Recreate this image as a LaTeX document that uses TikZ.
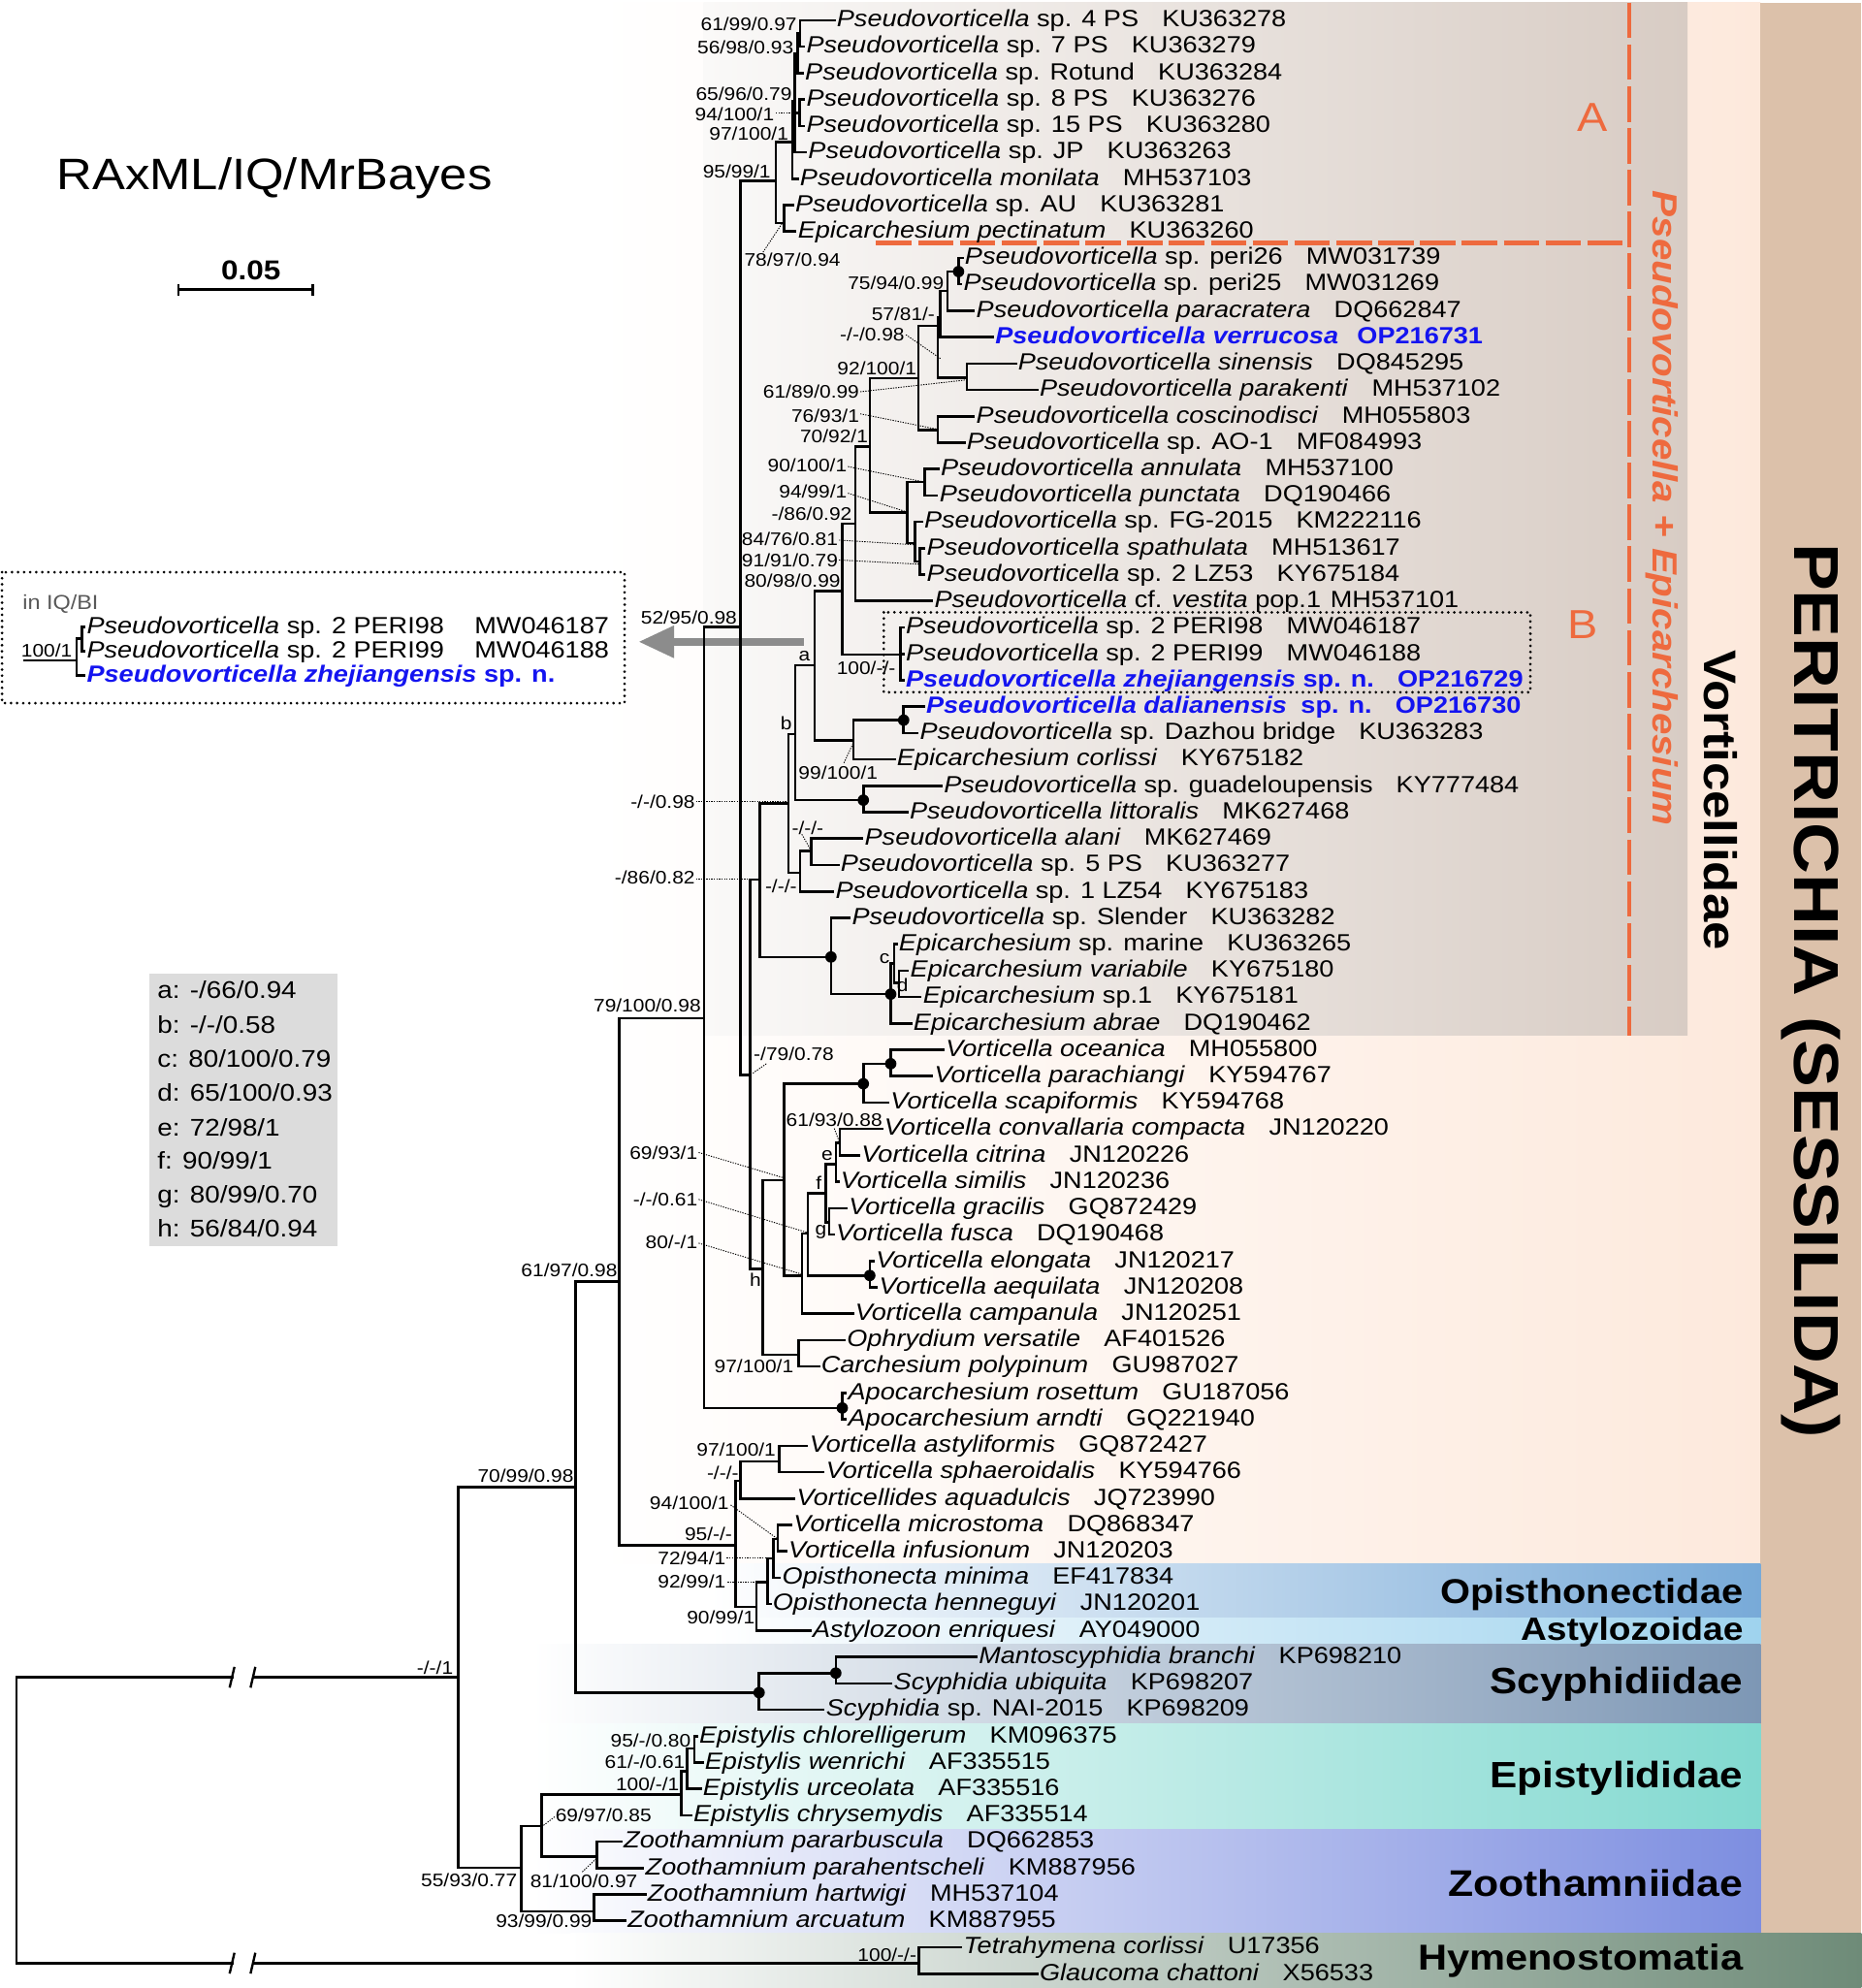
\documentclass[tikz,border=0pt]{standalone}
\usepackage{fontspec}
\setmainfont{Liberation Sans}[FakeStretch=1.12]
\usetikzlibrary{arrows.meta}
\definecolor{peach}{HTML}{FDE9DC}
\definecolor{boxL}{HTML}{FAF9F8}
\definecolor{boxR}{HTML}{D8CCC4}
\definecolor{peri}{HTML}{DCC1AA}
\definecolor{opis}{HTML}{78AAD8}
\definecolor{asty}{HTML}{9FD3EE}
\definecolor{scyp}{HTML}{7D97B5}
\definecolor{epis}{HTML}{82D9D0}
\definecolor{zoot}{HTML}{7D8EE0}
\definecolor{hyme}{HTML}{6E8B78}
\definecolor{orng}{HTML}{EE6A3E}
\definecolor{tblue}{HTML}{1414F0}
\definecolor{arrgray}{HTML}{8C8C8C}
\definecolor{legbg}{HTML}{DCDCDC}
\newcommand\pv{\textit{Pseudovorticella}}
\newcommand\tleaf[4]{\coordinate (#1) at (#2,#3);\node[tx] (#1t) at ({#2+1.8},{#3+5.2}) {#4};}
\newcommand\tkids[2]{\foreach \kd in {#2}{\draw[br] (#1) |- (\kd);}}
\newcommand\slab[4]{\node[sl] (#1) at (#2,{#3+5.1}) {#4};}
\newcommand\tlead[4]{\draw[ldr] (#1,#2) -- (#3,#4);}
\newcommand\bluetx[1]{{\color{tblue}\bfseries #1}}
\begin{document}
\begin{tikzpicture}[x=1pt,y=-1pt,
  br/.style={line width=2pt, line cap=rect, line join=miter},
  tx/.style={anchor=base west, inner sep=0pt, font=\fontsize{18.5}{20}\selectfont},
  sl/.style={anchor=base east, inner sep=0pt, font=\fontsize{14.3}{15}\selectfont},
  ldr/.style={line width=0.7pt, dash pattern=on 1pt off 1pt},
  dotn/.style={circle, fill=black, inner sep=0pt, minimum size=9pt},
  fam/.style={anchor=base east, inner sep=0pt},
  dotbox/.style={line width=2.3pt, dash pattern=on 0pt off 4.8pt, line cap=round},
  odash/.style={draw=orng, line width=3.6pt, dash pattern=on 28pt off 5pt},
  leg/.style={anchor=base west, inner sep=0pt, font=\fontsize{19}{21}\selectfont}]
\useasboundingbox (0,0) rectangle (1468,1568);
\fill[white] (0,0) rectangle (1468,1568);
% ---------- backgrounds
\shade[left color=white, right color=peach] (470,2) rectangle (1388.6,1233.7);
\shade[left color=boxL, right color=boxR] (555,2) rectangle (1331,816.5);
\fill[peri] (1388.6,2) rectangle (1468,1524.7);
\shade[left color=white, right color=opis] (560,1233.7) rectangle (1388.6,1276.2);
\shade[left color=white, right color=asty] (560,1276.2) rectangle (1388.6,1296.6);
\shade[left color=white, right color=scyp] (420,1296.6) rectangle (1388.6,1359.5);
\shade[left color=white, right color=epis] (420,1359.5) rectangle (1388.6,1443);
\shade[left color=white, right color=zoot] (420,1443) rectangle (1388.6,1524.7);
\shade[left color=white, right color=hyme] (450,1524.7) rectangle (1468,1568);
% ---------- orange clade marks
\coordinate (oTop) at (1285,2);
\coordinate (oBot) at (1285,816.5);
\coordinate (oCor) at (1285,191.8);
\coordinate (oLeft) at (691,191.8);
\draw[odash] (oTop) -- (oBot);
\draw[odash] (oLeft) -- (oCor);
\node[text=orng, font=\fontsize{32}{34}\selectfont] (labA) at (1256,93) {A};
\node[text=orng, font=\fontsize{32}{34}\selectfont] (labB) at (1248,493) {B};
\node[text=orng, rotate=-90, font=\bfseries\itshape\fontsize{27.5}{30}\selectfont] (pe) at (1311,401) {Pseudovorticella + Epicarchesium};
\node[rotate=-90, font=\bfseries\fontsize{36}{38}\selectfont] (vort) at (1357,631) {Vorticellidae};
\node[rotate=-90, font=\bfseries\fontsize{50}{52}\selectfont] (perit) at (1428,781.5) {PERITRICHIA (SESSILIDA)};
\node[fam, font=\bfseries\fontsize{27.2}{29}\selectfont] (fOp) at (1375,1264.6) {Opisthonectidae};
\node[fam, font=\bfseries\fontsize{25.4}{27}\selectfont] (fAs) at (1375,1294) {Astylozoidae};
\node[fam, font=\bfseries\fontsize{28.9}{30}\selectfont] (fSc) at (1375,1336.2) {Scyphidiidae};
\node[fam, font=\bfseries\fontsize{28.9}{30}\selectfont] (fEp) at (1375,1410.1) {Epistylididae};
\node[fam, font=\bfseries\fontsize{29.2}{30}\selectfont] (fZo) at (1375,1495.6) {Zoothamniidae};
\node[fam, font=\bfseries\fontsize{28.4}{30}\selectfont] (fHy) at (1375,1554.2) {Hymenostomatia};
% ---------- title, scale, legend
\node[anchor=base west, inner sep=0pt, font=\fontsize{34.7}{37}\selectfont] (title) at (44.6,149.2) {RAxML/IQ/MrBayes};
\node[anchor=base, inner sep=0pt, font=\bfseries\fontsize{21.5}{23}\selectfont] (sc) at (198,220.6) {0.05};
\coordinate (sbL) at (140.8,228.2); \coordinate (sbR) at (246.8,228.2);
\draw[line width=2pt] (sbL) -- (sbR);
\draw[line width=2pt] (140.8,223.9) -- (140.8,233.3);
\draw[line width=2pt] (246.8,223.9) -- (246.8,233.3);
\fill[legbg] (118,768) rectangle (266,983);
\node[leg] (la) at (124,787.8) {a: -/66/0.94};
\node[leg] (lb) at (124,814.8) {b: -/-/0.58};
\node[leg] (lc) at (124,841.8) {c: 80/100/0.79};
\node[leg] (ld) at (124,868.8) {d: 65/100/0.93};
\node[leg] (le) at (124,895.8) {e: 72/98/1};
\node[leg] (lf) at (124,921.8) {f: 90/99/1};
\node[leg] (lg) at (124,948.8) {g: 80/99/0.70};
\node[leg] (lh) at (124,975.8) {h: 56/84/0.94};
% ---------- inset
\draw[dotbox] (1.6,451.3) rectangle (492.6,554.6);
\node[anchor=base west, inner sep=0pt, text=black!65, font=\fontsize{16}{18}\selectfont] (inq) at (17.7,480.4) {in IQ/BI};
\coordinate (Iroot) at (19.3,521);
\coordinate (I1) at (60.5,521);
\coordinate (I2) at (64.4,503.6);
\tleaf{I98}{66.5}{494.7}{\pv{} sp. 2 PERI98\hspace{1.3em}MW046187}
\tleaf{I99}{66.5}{513.8}{\pv{} sp. 2 PERI99\hspace{1.3em}MW046188}
\tleaf{Iz}{66.5}{532.6}{\bluetx{\textit{Pseudovorticella zhejiangensis} sp. n.}}
\draw[br] (Iroot) -- (I1);
\tkids{I1}{I2,Iz}
\tkids{I2}{I98,I99}
\node[sl] (i100) at (57,518.3) {100/1};
% ---------- grey arrow and dotted box B
\coordinate (arS) at (633.7,506.2); \coordinate (arE) at (503.6,506.2);
\draw[arrgray, line width=6pt, -{Triangle[length=28pt,width=24pt]}] (arS) -- (arE);
\draw[dotbox] (697,483) rectangle (1207,546);
% ---------- root
\coordinate (R) at (13.1,1322.9);
\coordinate (Rb) at (13.1,1548.4);
\coordinate (bk1a) at (183,1322.9); \coordinate (bk1b) at (199.5,1322.9);
\coordinate (bk2a) at (183,1548.4); \coordinate (bk2b) at (199.5,1548.4);
\coordinate (P0) at (361.2,1322.9);
\coordinate (Nhym) at (724.7,1548.4);
\draw[br] (bk1a) -- (R) -- (Rb) -- (bk2a);
\draw[br] (bk1b) -- (P0);
\draw[br] (bk2b) -- (Nhym);
\draw[line width=1.8pt] (181.1,1331.1) -- (184.9,1314.7);
\draw[line width=1.8pt] (197.6,1331.1) -- (201.4,1314.7);
\draw[line width=1.8pt] (181.1,1556.6) -- (184.9,1540.2);
\draw[line width=1.8pt] (197.6,1556.6) -- (201.4,1540.2);
% ---------- internal nodes
\coordinate (N7099) at (453.8,1173);
\coordinate (N6197) at (488.3,1011);
\coordinate (N79100) at (555.4,803);
\coordinate (N5295) at (584,494.7);
\coordinate (N9599) at (612,142.8);
\coordinate (N7897) at (618.4,176);
\coordinate (N97a) at (624.8,112.2);
\coordinate (N6596) at (626.8,80);
\coordinate (N5698) at (629,42);
\coordinate (N6199) at (631.1,26);
\coordinate (N94a) at (630.5,89);
\coordinate (N79) at (591.6,847.9);
\coordinate (N8682) at (599.2,693.6);
\coordinate (Nc1) at (621.7,633.7);
\coordinate (Nb) at (627.3,578.9);
\coordinate (Na) at (642.6,524.8);
\coordinate (N8098) at (664.3,466);
\coordinate (N8692) at (674.5,413);
\coordinate (N7092) at (686,352);
\coordinate (N92100) at (724.2,298.3);
\coordinate (Ndd) at (739.5,257);
\coordinate (N5781) at (741.5,250);
\coordinate (N7594) at (747.2,229.5);
\coordinate (Nd10) at (756,214.2);
\coordinate (N6189) at (762.5,298);
\coordinate (N7693) at (739.5,339);
\coordinate (N9499) at (715.3,404.2);
\coordinate (N90100) at (729.3,380);
\coordinate (N8476) at (721.7,428.4);
\coordinate (N9191) at (725.5,442.8);
\coordinate (Nperi) at (710.2,516.4);
\coordinate (N99100) at (673.2,584);
\coordinate (Nd27) at (712.7,568);
\coordinate (Nd30) at (680.9,631.1);
\coordinate (Nm1) at (631.1,688.5);
\coordinate (Nm2) at (640,671);
\coordinate (Nd35) at (655.4,754.8);
\coordinate (Nd36) at (702.5,784.1);
\coordinate (Nc) at (705.1,760);
\coordinate (Nd) at (709,775);
\coordinate (Nh) at (601.8,1001);
\coordinate (N97c) at (629.9,1068.5);
\coordinate (N6993) at (618.4,930.8);
\coordinate (Nd42) at (680.9,854.8);
\coordinate (Nd40) at (702.5,839);
\coordinate (N80) at (632.4,1006);
\coordinate (N061) at (637,973);
\coordinate (Nd48) at (686,1006);
\coordinate (Nf) at (651.5,941);
\coordinate (Ne) at (659.2,918);
\coordinate (N6193) at (662.5,901.4);
\coordinate (Ng) at (654,964);
\coordinate (Napo) at (664.3,1110.5);
\coordinate (N95) at (580.1,1218.9);
\coordinate (Nm3) at (584,1168);
\coordinate (N97b) at (614.6,1152.6);
\coordinate (N9099) at (596.7,1267.4);
\coordinate (N9299) at (605.6,1248);
\coordinate (N7294) at (610.2,1229);
\coordinate (N94b) at (613.3,1213.8);
\coordinate (Nscy) at (598.7,1335);
\coordinate (Nscy2) at (659.2,1319.6);
\coordinate (N5593) at (410.9,1473);
\coordinate (N6997) at (427.1,1440.2);
\coordinate (N100) at (537.3,1415.2);
\coordinate (N061b) at (542,1397);
\coordinate (N95080) at (547.5,1379);
\coordinate (N81100) at (470.8,1464.2);
\coordinate (N9399) at (468.7,1507.6);
% ---------- leaves
\tleaf{L1}{658}{16}{\pv{} sp. 4 PS\quad KU363278}
\tleaf{L2}{634}{36.8}{\pv{} sp. 7 PS\quad KU363279}
\tleaf{L3}{633}{57.6}{\pv{} sp. Rotund\quad KU363284}
\tleaf{L4}{634}{78.5}{\pv{} sp. 8 PS\quad KU363276}
\tleaf{L5}{634}{99.3}{\pv{} sp. 15 PS\quad KU363280}
\tleaf{L6}{635.5}{120.1}{\pv{} sp. JP\quad KU363263}
\tleaf{L7}{629}{140.9}{\textit{Pseudovorticella monilata}\quad MH537103}
\tleaf{L8}{625.3}{161.7}{\pv{} sp. AU\quad KU363281}
\tleaf{L9}{627.3}{182.6}{\textit{Epicarchesium pectinatum}\quad KU363260}
\tleaf{L10}{759}{203.4}{\pv{} sp. peri26\quad MW031739}
\tleaf{L11}{758}{224.2}{\pv{} sp. peri25\quad MW031269}
\tleaf{L12}{768}{245}{\textit{Pseudovorticella paracratera}\quad DQ662847}
\tleaf{L13}{783}{265.8}{\bluetx{\textit{Pseudovorticella verrucosa}\hspace{0.8em}OP216731}}
\tleaf{L14}{801}{286.7}{\textit{Pseudovorticella sinensis}\quad DQ845295}
\tleaf{L15}{818}{307.5}{\textit{Pseudovorticella parakenti}\quad MH537102}
\tleaf{L16}{768}{328.3}{\textit{Pseudovorticella coscinodisci}\quad MH055803}
\tleaf{L17}{760.5}{349.1}{\pv{} sp. AO-1\quad MF084993}
\tleaf{L18}{740}{369.9}{\textit{Pseudovorticella annulata}\quad MH537100}
\tleaf{L19}{739}{390.8}{\textit{Pseudovorticella punctata}\quad DQ190466}
\tleaf{L20}{727}{411.6}{\pv{} sp. FG-2015\quad KM222116}
\tleaf{L21}{729}{432.4}{\textit{Pseudovorticella spathulata}\quad MH513617}
\tleaf{L22}{729}{453.2}{\pv{} sp. 2 LZ53\quad KY675184}
\tleaf{L23}{735}{474}{\pv{} cf. \textit{vestita} pop.1\hspace{0.4em}MH537101}
\tleaf{L24}{712.5}{494.9}{\pv{} sp. 2 PERI98\quad MW046187}
\tleaf{L25}{712.5}{515.7}{\pv{} sp. 2 PERI99\quad MW046188}
\tleaf{L26}{712.5}{536.5}{\bluetx{\textit{Pseudovorticella zhejiangensis} sp. n.\quad OP216729}}
\tleaf{L27}{728.5}{557.3}{\bluetx{\textit{Pseudovorticella dalianensis}\hspace{0.6em}sp. n.\quad OP216730}}
\tleaf{L28}{723.5}{578.1}{\pv{} sp. Dazhou bridge\quad KU363283}
\tleaf{L29}{705.5}{599}{\textit{Epicarchesium corlissi}\quad KY675182}
\tleaf{L30}{742.5}{619.8}{\pv{} sp. guadeloupensis\quad KY777484}
\tleaf{L31}{715.5}{640.6}{\textit{Pseudovorticella littoralis}\quad MK627468}
\tleaf{L32}{680}{661.4}{\textit{Pseudovorticella alani}\quad MK627469}
\tleaf{L33}{661}{682.2}{\pv{} sp. 5 PS\quad KU363277}
\tleaf{L34}{657}{703.1}{\pv{} sp. 1 LZ54\quad KY675183}
\tleaf{L35}{670}{723.9}{\pv{} sp. Slender\quad KU363282}
\tleaf{L36}{707}{744.7}{\textit{Epicarchesium} sp. marine\quad KU363265}
\tleaf{L37}{716}{765.5}{\textit{Epicarchesium variabile}\quad KY675180}
\tleaf{L38}{726}{786.3}{\textit{Epicarchesium} sp.1\quad KY675181}
\tleaf{L39}{718.5}{807.2}{\textit{Epicarchesium abrae}\quad DQ190462}
\tleaf{L40}{744}{828}{\textit{Vorticella oceanica}\quad MH055800}
\tleaf{L41}{735}{848.8}{\textit{Vorticella parachiangi}\quad KY594767}
\tleaf{L42}{700.5}{869.6}{\textit{Vorticella scapiformis}\quad KY594768}
\tleaf{L43}{695.5}{890.4}{\textit{Vorticella convallaria compacta}\quad JN120220}
\tleaf{L44}{677.5}{911.3}{\textit{Vorticella citrina}\quad JN120226}
\tleaf{L45}{661}{932.1}{\textit{Vorticella similis}\quad JN120236}
\tleaf{L46}{667.5}{952.9}{\textit{Vorticella gracilis}\quad GQ872429}
\tleaf{L47}{657.5}{973.7}{\textit{Vorticella fusca}\quad DQ190468}
\tleaf{L48}{689}{994.5}{\textit{Vorticella elongata}\quad JN120217}
\tleaf{L49}{691.5}{1015.4}{\textit{Vorticella aequilata}\quad JN120208}
\tleaf{L50}{672.5}{1036.2}{\textit{Vorticella campanula}\quad JN120251}
\tleaf{L51}{666}{1057}{\textit{Ophrydium versatile}\quad AF401526}
\tleaf{L52}{645.7}{1077.8}{\textit{Carchesium polypinum}\quad GU987027}
\tleaf{L53}{667}{1098.6}{\textit{Apocarchesium rosettum}\quad GU187056}
\tleaf{L54}{667}{1119.5}{\textit{Apocarchesium arndti}\quad GQ221940}
\tleaf{L55}{636.5}{1140.3}{\textit{Vorticella astyliformis}\quad GQ872427}
\tleaf{L56}{649.5}{1161.1}{\textit{Vorticella sphaeroidalis}\quad KY594766}
\tleaf{L57}{626.5}{1181.9}{\textit{Vorticellides aquadulcis}\quad JQ723990}
\tleaf{L58}{624}{1202.7}{\textit{Vorticella microstoma}\quad DQ868347}
\tleaf{L59}{620}{1223.6}{\textit{Vorticella infusionum}\quad JN120203}
\tleaf{L60}{615}{1244.4}{\textit{Opisthonecta minima}\quad EF417834}
\tleaf{L61}{607.5}{1265.2}{\textit{Opisthonecta henneguyi}\quad JN120201}
\tleaf{L62}{639}{1286}{\textit{Astylozoon enriquesi}\quad AY049000}
\tleaf{L63}{770}{1306.8}{\textit{Mantoscyphidia branchi}\quad KP698210}
\tleaf{L64}{703}{1327.7}{\textit{Scyphidia ubiquita}\quad KP698207}
\tleaf{L65}{649.5}{1348.5}{\textit{Scyphidia} sp. NAI-2015\quad KP698209}
\tleaf{L66}{549.5}{1369.3}{\textit{Epistylis chlorelligerum}\quad KM096375}
\tleaf{L67}{554}{1390.1}{\textit{Epistylis wenrichi}\quad AF335515}
\tleaf{L68}{552.5}{1410.9}{\textit{Epistylis urceolata}\quad AF335516}
\tleaf{L69}{545}{1431.8}{\textit{Epistylis chrysemydis}\quad AF335514}
\tleaf{L70}{490}{1452.6}{\textit{Zoothamnium pararbuscula}\quad DQ662853}
\tleaf{L71}{507.2}{1473.4}{\textit{Zoothamnium parahentscheli}\quad KM887956}
\tleaf{L72}{508.8}{1494.2}{\textit{Zoothamnium hartwigi}\quad MH537104}
\tleaf{L73}{493.2}{1515}{\textit{Zoothamnium arcuatum}\quad KM887955}
\tleaf{L74}{758}{1535.9}{\textit{Tetrahymena corlissi}\quad U17356}
\tleaf{L75}{818}{1556.7}{\textit{Glaucoma chattoni}\quad X56533}
% ---------- branches
\tkids{P0}{N7099,N5593}
\tkids{N7099}{N6197,Nscy}
\tkids{N6197}{N79100,N95}
\tkids{N79100}{N5295,Napo}
\tkids{N5295}{N9599,N79}
\tkids{N9599}{N97a,N7897}
\tkids{N97a}{N6596,L7}
\tkids{N6596}{N5698,N94a,L6}
\tkids{N5698}{N6199,L3}
\tkids{N6199}{L1,L2}
\tkids{N94a}{L4,L5}
\tkids{N7897}{L8,L9}
\tkids{N79}{N8682,Nh}
\tkids{N8682}{Nc1,Nd35}
\tkids{Nc1}{Nb,Nm1}
\tkids{Nb}{Na,Nd30}
\tkids{Na}{N8098,N99100}
\tkids{N8098}{N8692,Nperi}
\tkids{N8692}{N7092,L23}
\tkids{N7092}{N92100,N9499}
\tkids{N92100}{Ndd,N7693}
\tkids{Ndd}{N5781,N6189}
\tkids{N5781}{N7594,L13}
\tkids{N7594}{Nd10,L12}
\tkids{Nd10}{L10,L11}
\tkids{N6189}{L14,L15}
\tkids{N7693}{L16,L17}
\tkids{N9499}{N90100,N8476}
\tkids{N90100}{L18,L19}
\tkids{N8476}{L20,N9191}
\tkids{N9191}{L21,L22}
\tkids{Nperi}{L24,L25,L26}
\tkids{N99100}{Nd27,L29}
\tkids{Nd27}{L27,L28}
\tkids{Nd30}{L30,L31}
\tkids{Nm1}{Nm2,L34}
\tkids{Nm2}{L32,L33}
\tkids{Nd35}{L35,Nd36}
\tkids{Nd36}{Nc,L39}
\tkids{Nc}{L36,Nd}
\tkids{Nd}{L37,L38}
\tkids{Nh}{N6993,N97c}
\tkids{N97c}{L51,L52}
\tkids{N6993}{Nd42,N80}
\tkids{Nd42}{Nd40,L42}
\tkids{Nd40}{L40,L41}
\tkids{N80}{N061,L50}
\tkids{N061}{Nf,Nd48}
\tkids{Nd48}{L48,L49}
\tkids{Nf}{Ne,Ng}
\tkids{Ne}{N6193,L45}
\tkids{N6193}{L43,L44}
\tkids{Ng}{L46,L47}
\tkids{Napo}{L53,L54}
\tkids{N95}{Nm3,N9099}
\tkids{Nm3}{N97b,L57}
\tkids{N97b}{L55,L56}
\tkids{N9099}{N9299,L62}
\tkids{N9299}{N7294,L61}
\tkids{N7294}{N94b,L60}
\tkids{N94b}{L58,L59}
\tkids{Nscy}{Nscy2,L65}
\tkids{Nscy2}{L63,L64}
\tkids{N5593}{N6997,N9399}
\tkids{N6997}{N100,N81100}
\tkids{N100}{N061b,L69}
\tkids{N061b}{N95080,L68}
\tkids{N95080}{L66,L67}
\tkids{N81100}{L70,L71}
\tkids{N9399}{L72,L73}
\tkids{Nhym}{L74,L75}
% ---------- dots
\foreach \dn in {Nd10,Nd27,Nd30,Nd35,Nd36,Nd42,Nd40,Nd48,Napo,Nscy,Nscy2}{\node[dotn] (k\dn) at (\dn) {};}
% ---------- support labels
\slab{s1}{628.6}{19.1}{61/99/0.97}
\slab{s2}{626}{37.7}{56/98/0.93}
\slab{s3}{624.7}{74}{65/96/0.79}
\slab{s4}{610.7}{90.5}{94/100/1}
\slab{s5}{622}{105.8}{97/100/1}
\slab{s6}{608}{135}{95/99/1}
\slab{s7}{663}{205}{78/97/0.94}
\slab{s8}{744.6}{223}{75/94/0.99}
\slab{s9}{737.5}{247.9}{57/81/-}
\slab{s10}{713.5}{264}{-/-/0.98}
\slab{s11}{723}{290.7}{92/100/1}
\slab{s12}{677.8}{309}{61/89/0.99}
\slab{s13}{677.8}{327.7}{76/93/1}
\slab{s14}{684.7}{344.3}{70/92/1}
\slab{s15}{668.1}{367.2}{90/100/1}
\slab{s16}{668.1}{387.6}{94/99/1}
\slab{s17}{672}{405.5}{-/86/0.92}
\slab{s18}{661}{425.3}{84/76/0.81}
\slab{s19}{661}{441.7}{91/91/0.79}
\slab{s20}{663}{457.7}{80/98/0.99}
\slab{s21}{581.4}{487}{52/95/0.98}
\slab{s22}{706.4}{526.6}{100/-/-}
\slab{s23}{692.4}{609.5}{99/100/1}
\slab{s24}{548.3}{632.4}{-/-/0.98}
\slab{s25}{649.7}{652.8}{-/-/-}
\slab{s26}{548.3}{692}{-/86/0.82}
\slab{s27}{628.6}{698.7}{-/-/-}
\slab{s28}{553}{793}{79/100/0.98}
\slab{s29}{657.9}{831.3}{-/79/0.78}
\slab{s30}{696}{883.6}{61/93/0.88}
\slab{s31}{550.3}{909}{69/93/1}
\slab{s32}{550.3}{946}{-/-/0.61}
\slab{s33}{550.3}{980}{80/-/1}
\slab{s34}{487}{1002}{61/97/0.98}
\slab{s35}{626}{1077.4}{97/100/1}
\slab{s36}{612}{1143.7}{97/100/1}
\slab{s37}{582.7}{1161.5}{-/-/-}
\slab{s38}{452.6}{1164}{70/99/0.98}
\slab{s39}{575}{1185.8}{94/100/1}
\slab{s40}{577.6}{1210}{95/-/-}
\slab{s41}{572.5}{1229}{72/94/1}
\slab{s42}{572.5}{1247}{92/99/1}
\slab{s43}{595.4}{1276}{90/99/1}
\slab{s44}{357.5}{1315.3}{-/-/1}
\slab{s45}{545}{1373}{95/-/0.80}
\slab{s46}{540.5}{1389.8}{61/-/0.61}
\slab{s47}{535.8}{1407.6}{100/-/1}
\slab{s48}{514}{1431.8}{69/97/0.85}
\slab{s49}{408}{1483}{55/93/0.77}
\slab{s50}{503}{1484}{81/100/0.97}
\slab{s51}{467}{1514.7}{93/99/0.99}
\slab{s52}{723}{1541.5}{100/-/-}
% letters
\node[sl] (ta) at (639,521.5) {a};
\node[sl] (tb) at (624.7,575.8) {b};
\node[sl] (tc) at (701.8,760) {c};
\node[sl] (td) at (716.5,781.7) {d};
\node[sl] (te) at (657,915) {e};
\node[sl] (tf) at (648.2,938.4) {f};
\node[sl] (tg) at (652,974.1) {g};
\node[sl] (th) at (600.5,1014.4) {h};
% ---------- leader lines
\tlead{612}{89.3}{629.9}{89.3}
\tlead{601.8}{198.9}{617}{176}
\tlead{714.5}{264}{742}{283}
\tlead{678.5}{309}{762.5}{299.6}
\tlead{678.5}{326.4}{739.5}{338.6}
\tlead{668.8}{368}{728}{380}
\tlead{668.8}{389}{714}{403.4}
\tlead{661.7}{426}{721.7}{429.7}
\tlead{661.7}{441.7}{725.5}{445}
\tlead{665.6}{601.8}{672.7}{586.5}
\tlead{549}{632.4}{621.7}{632.4}
\tlead{632.4}{658}{639.6}{670.7}
\tlead{549}{693.6}{599.2}{693.6}
\tlead{604.4}{839}{593}{847}
\tlead{551}{909}{617}{928.7}
\tlead{551}{946}{636.2}{972}
\tlead{551}{980.5}{632.4}{1005}
\tlead{658}{890}{661.8}{900.2}
\tlead{576.3}{1187}{613.3}{1213.8}
\tlead{573.2}{1228.6}{609.5}{1228.6}
\tlead{573.8}{1247.5}{604.4}{1247.5}
\tlead{437.4}{1433}{428}{1440.2}
\tlead{459.3}{1476.4}{470.2}{1466}
\end{tikzpicture}
\end{document}
